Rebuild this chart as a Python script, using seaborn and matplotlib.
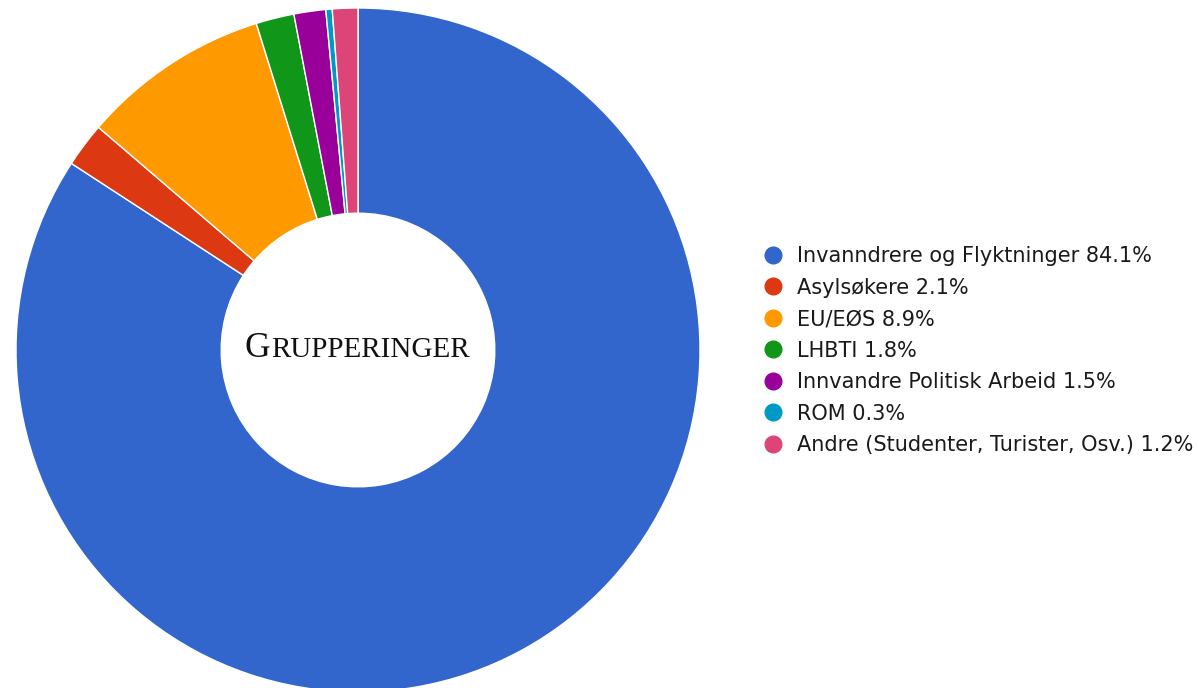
import matplotlib
matplotlib.use("Agg")
import matplotlib.pyplot as plt
import seaborn as sns
from matplotlib.lines import Line2D

sns.set_theme(style="white")
plt.rcParams['font.family'] = ['DejaVu Sans']

categories = ["Invanndrere og Flyktninger", "Asylsøkere", "EU/EØS", "LHBTI",
              "Innvandre Politisk Arbeid", "ROM", "Andre (Studenter, Turister, Osv.)"]
values = [84.1, 2.1, 8.9, 1.8, 1.5, 0.3, 1.2]
colors = ["#3366cc", "#dc3912", "#ff9900", "#109618", "#990099", "#0099c6", "#dd4477"]
title_first = "G"
title_rest = "RUPPERINGER"

fig = plt.figure(figsize=(11.99, 6.88), dpi=100)
ax = fig.add_axes([16/1199, -4/688, 684/1199, 684/688])
ax.pie(values, colors=colors, startangle=90, counterclock=False, radius=1.0,
       wedgeprops=dict(width=0.6, edgecolor="white", linewidth=1.0))
ax.set_xlim(-1, 1)
ax.set_ylim(-1, 1)
ax.set_aspect("equal")
ax.axis("off")

t1 = ax.text(-0.332, -0.02, title_first, fontsize=25.5, family="Liberation Serif",
             ha="left", va="baseline", color="#111111")
ax.annotate(title_rest, xy=(1, 0), xycoords=t1, xytext=(0.5, 1.0), textcoords="offset points",
            fontsize=21, family="Liberation Serif",
            ha="left", va="bottom", color="#111111")

handles = [Line2D([0], [0], marker="o", linestyle="", markersize=12,
                  markerfacecolor=c, markeredgecolor=c) for c in colors]
labels = [f"{c} {v}%" for c, v in zip(categories, values)]
fig.legend(handles, labels, loc="upper left", bbox_to_anchor=(753/1199, 1 - 238/688),
           frameon=False, fontsize=15, handletextpad=0.6, labelspacing=0.55,
           handlelength=1.1, borderaxespad=0, labelcolor="#1a1a1a")

fig.savefig("out.png", dpi=100)
